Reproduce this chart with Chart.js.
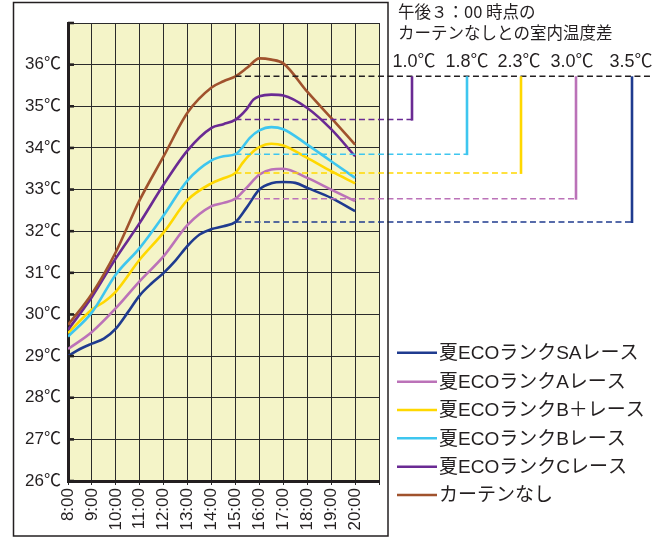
<!DOCTYPE html>
<html><head><meta charset="utf-8">
<script src="https://cdn.jsdelivr.net/npm/chart.js@4/dist/chart.umd.min.js"></script>
<style>html,body{margin:0;padding:0;background:#fff}#wrap{width:669px;height:538px;position:relative}</style>
</head><body><div id="wrap"><canvas id="c" width="669" height="538"></canvas></div>
<script>
// ---- data ----
const seriesNames = ['夏ECOランクSAレース','夏ECOランクAレース','夏ECOランクB＋レース','夏ECOランクBレース','夏ECOランクCレース','カーテンなし'];
const timesSA = [8,8.5,9,9.5,10,10.5,11,11.5,12,12.5,13,13.5,14,14.5,15,15.46,16,16.5,17,17.5,18,19,20];
const valuesSA = [29.0,29.17,29.3,29.42,29.66,30.05,30.46,30.75,31.0,31.3,31.65,31.92,32.05,32.12,32.22,32.56,33.0,33.15,33.18,33.16,33.04,32.8,32.48];
const timesA = [8,9,10,11,12,13,14,14.5,15,15.46,16,16.5,17,18,19,20];
const valuesA = [29.17,29.58,30.15,30.8,31.4,32.15,32.6,32.68,32.78,33.04,33.36,33.48,33.5,33.28,33.0,32.72];
const timesBplus = [8,9,9.5,10,11,12,13,14,14.5,15,15.3,15.6,16,16.5,17,18,19,20];
const valuesBplus = [29.55,30.12,30.3,30.55,31.32,31.97,32.75,33.15,33.27,33.4,33.64,33.84,34.02,34.1,34.06,33.76,33.44,33.15];
const timesB = [8,9,10,11,12,13,14,14.5,15,15.3,15.6,16,16.5,17,18,19,20];
const valuesB = [29.47,30.05,30.96,31.6,32.38,33.22,33.7,33.8,33.85,34.02,34.24,34.42,34.5,34.45,34.08,33.68,33.28];
const timesC = [8,9,10,11,12,13,14,14.5,15,15.45,15.75,16,16.5,17,18,19,20];
const valuesC = [29.63,30.42,31.35,32.2,33.12,33.94,34.48,34.57,34.68,34.92,35.16,35.24,35.28,35.26,34.96,34.45,33.8];
const timesNone = [8,9,10,11,12,13,14,14.5,15,15.5,16,16.5,17,18,19,20];
const valuesNone = [29.75,30.5,31.5,32.75,33.8,34.85,35.45,35.6,35.72,35.93,36.15,36.12,36.03,35.35,34.72,34.08];
const xTickLabels = ['8:00','9:00','10:00','11:00','12:00','13:00','14:00','15:00','16:00','17:00','18:00','19:00','20:00'];
const yTickLabels = ['26℃','27℃','28℃','29℃','30℃','31℃','32℃','33℃','34℃','35℃','36℃'];
const noteLines = ['午後３：00 時点の','カーテンなしとの室内温度差'];
const diffLabels = ['1.0℃','1.8℃','2.3℃','3.0℃','3.5℃']; // C, B, B+, A, SA
const compareTime = 15;

const colors = ['#1f3b8f','#bb72b8','#ffd800','#3ec6ef','#6a2a93','#a0522d'];
const allTimes = [timesSA,timesA,timesBplus,timesB,timesC,timesNone];
const allValues = [valuesSA,valuesA,valuesBplus,valuesB,valuesC,valuesNone];

const FONT = "'Liberation Sans', Arial, 'Noto Sans CJK JP', sans-serif";
const JFONT = "'Noto Sans CJK JP', 'Liberation Sans', sans-serif";

const datasets = seriesNames.map((n,i)=>({
  label:n,
  data: allTimes[i].map((t,k)=>({x:t,y:allValues[i][k]})),
  borderColor: colors[i], borderWidth: 2.6, pointRadius:0,
  cubicInterpolationMode:'monotone', fill:false
})).reverse();

function valAt(i,t){ const k=allTimes[i].indexOf(t); return allValues[i][k]; }

const deco = {
  id:'deco',
  beforeDraw(chart){
    const {ctx, chartArea:a} = chart;
    ctx.save();
    ctx.fillStyle='#f4f4c8';
    ctx.fillRect(a.left,a.top,a.right-a.left,a.bottom-a.top);
    ctx.restore();
  },
  afterDatasetsDraw(chart){
    const {ctx, chartArea:a, scales:{x,y}} = chart;
    ctx.save();
    // inner tick marks on y axis
    ctx.strokeStyle='#231f20'; ctx.lineWidth=2.6;
    for(let v=26; v<=37; v++){
      const py=y.getPixelForValue(v);
      ctx.beginPath(); ctx.moveTo(a.left,py); ctx.lineTo(a.left+6,py); ctx.stroke();
    }
    // comparison lines at 15:00
    const x15 = x.getPixelForValue(compareTime);
    const yRef = y.getPixelForValue(valAt(5,compareTime));
    ctx.setLineDash([6,3.5]); ctx.lineWidth=1.4; ctx.strokeStyle='#231f20';
    ctx.beginPath(); ctx.moveTo(x15,yRef); ctx.lineTo(650,yRef); ctx.stroke();
    const order=[4,3,2,1,0];
    const barX=[412,467,521,576,632];
    order.forEach((si,j)=>{
      const py=y.getPixelForValue(valAt(si,compareTime));
      ctx.setLineDash([6,3.5]); ctx.lineWidth=1.5; ctx.strokeStyle=colors[si];
      ctx.beginPath(); ctx.moveTo(x15,py); ctx.lineTo(barX[j],py); ctx.stroke();
      ctx.setLineDash([]); ctx.lineWidth=2.6;
      ctx.beginPath(); ctx.moveTo(barX[j],yRef); ctx.lineTo(barX[j],py+1); ctx.stroke();
    });
    ctx.setLineDash([]);
    // difference labels
    const labX=[414,467,519,572,631];
    ctx.fillStyle='#231f20'; ctx.font='18px '+FONT; ctx.textAlign='center'; ctx.textBaseline='middle';
    diffLabels.forEach((t,j)=>ctx.fillText(t,labX[j],62));
    // note text
    ctx.font='16.5px '+JFONT; ctx.textAlign='left';
    ctx.fillText(noteLines[0],398,12);
    ctx.fillText(noteLines[1],398,33);
    // legend
    const rowY=[352.7,381.7,410,438.3,466.7,495];
    ctx.font='19px '+FONT; ctx.textBaseline='middle';
    seriesNames.forEach((n,i)=>{
      ctx.strokeStyle=colors[i]; ctx.lineWidth=2.6;
      ctx.beginPath(); ctx.moveTo(397,rowY[i]); ctx.lineTo(437,rowY[i]); ctx.stroke();
      ctx.fillStyle='#231f20'; ctx.fillText(n,439,rowY[i]+1);
    });
    // outer frame
    ctx.strokeStyle='#231f20'; ctx.lineWidth=1.5;
    ctx.strokeRect(13.5,2.5,374.5,533.5);
    ctx.restore();
  }
};

new Chart(document.getElementById('c'),{
  type:'line',
  data:{datasets},
  options:{
    responsive:false, animation:false,
    layout:{padding:{left:13,top:23,right:290,bottom:0}},
    plugins:{legend:{display:false},tooltip:{enabled:false}},
    scales:{
      x:{type:'linear',min:8,max:21,
        afterFit(s){s.height=57;},
        afterBuildTicks(s){s.ticks=[];for(let v=8;v<=21;v++)s.ticks.push({value:v});},
        ticks:{stepSize:1,autoSkip:false,minRotation:90,maxRotation:90,padding:3,color:'#231f20',
          font:{family:FONT,size:17},
          callback:(v)=>{const i=Math.round(v)-8;return xTickLabels[i]!==undefined?xTickLabels[i]:'';}},
        grid:{color:'#2b2b2b',lineWidth:1,tickLength:4,drawTicks:true},
        border:{display:true,width:3,color:'#231f20'}
      },
      y:{type:'linear',min:26,max:37,
        afterFit(s){s.width=55;},
        afterBuildTicks(s){s.ticks=[];for(let v=26;v<=37;v++)s.ticks.push({value:v});},
        ticks:{stepSize:1,padding:7,color:'#231f20',font:{family:FONT,size:17},
          callback:(v)=>{const i=Math.round(v)-26;return yTickLabels[i]!==undefined?yTickLabels[i]:'';}},
        grid:{color:'#2b2b2b',lineWidth:1,drawTicks:false},
        border:{display:true,width:3,color:'#231f20'}
      }
    }
  },
  plugins:[deco]
});
</script></body></html>
